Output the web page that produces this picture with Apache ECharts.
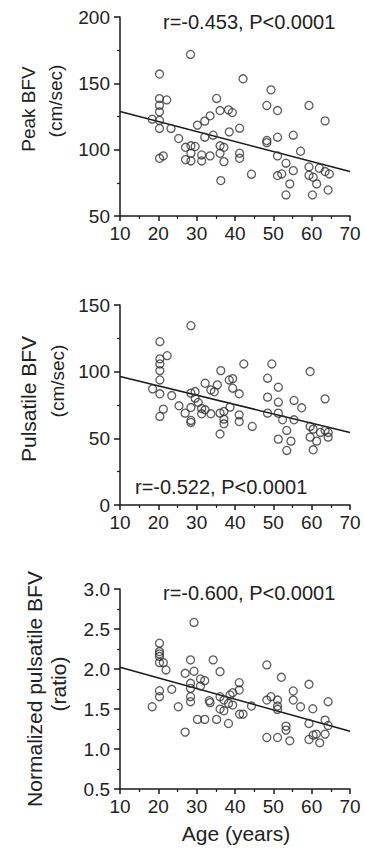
<!DOCTYPE html>
<html><head><meta charset="utf-8">
<script src="https://cdn.jsdelivr.net/npm/echarts@6/dist/echarts.min.js"></script>
<style>html,body{margin:0;padding:0;background:#fff}#c{width:365px;height:849px}</style>
</head><body><div id="c"></div><script>
// Panel 1: Peak BFV (cm/sec) vs age
const peakAge = [18.4,20.3,20.3,20.3,20.3,20.3,20.3,20.3,21.3,22.2,23.3,25.3,27.1,27.1,28.4,28.5,28.5,28.5,29.6,30.2,31.3,31.3,32.1,32.1,33.5,33.5,34.3,35.2,36.1,36.1,36.1,36.3,37.1,37.1,38.3,38.5,39.3,41.2,41.2,41.2,42.1,44.3,48.3,48.3,48.3,49.4,51.1,51.1,51.1,51.1,52.2,53.3,53.3,54.3,55.2,55.2,57.1,59.3,59.3,59.3,60.4,60.2,61.3,62,63.5,63.5,64.6,64.3];
const peakBFV = [123,157,138.5,133.5,128.5,122,116,93.5,95.3,137.5,116,108.4,101.8,92.5,171.8,102.9,97.3,91.5,102.4,118.5,96,91.5,109.4,121.5,125.5,95.3,110.9,138.6,129.5,102.9,97.3,76.7,101.8,91,130,113.4,128,116.2,97.3,93.5,153.4,81.5,133.3,106.9,105.3,145.1,129.5,109.4,95.3,80.5,81.7,89.8,65.9,74.2,110.9,84.2,98.8,133.3,87,80.7,79.2,65.9,74.2,86,121.7,83.5,81.7,69.6];
const peakFit = [[10,128.8],[70,83.5]];

// Panel 2: Pulsatile BFV (cm/sec) vs age
const pulsAge = [18.5,20.4,20.4,20.4,20.4,20.4,20.4,20.4,21.3,22.3,23.5,25.4,27,28.5,28.5,28.5,28.5,28.5,29.6,29.6,30.4,31.3,31.3,32.2,32.2,33.7,33.7,34.6,35.4,36.3,36.1,36.1,37.1,37.1,37.1,38.5,39.4,39.4,38.7,41.1,41.1,41.1,42.3,44.5,48.5,48.5,48.5,49.6,51.3,51.3,51.3,51.3,52.4,53.5,53.5,54.6,55.4,55.4,57.4,59.6,59.6,59.6,60.4,60.4,61.3,62.3,63.5,63.5,64.3,64.3];
const pulsBFV = [87.1,122.5,109.6,105.8,100.8,93.8,83.4,66.4,71.9,112,82.1,74.4,68.9,134.5,83.9,73.1,63.4,61.9,85.1,80.1,76.9,72.4,68.4,91.3,71.4,68.4,86.3,84.9,90.1,100.8,68.9,53.2,70.1,64.4,60.9,93.8,94.8,87.6,73.4,83.4,67.6,62.6,105.8,58.9,95.1,80.9,68.9,105.8,88.3,77.1,68.9,49.4,63.9,55.9,40.9,47.9,78.4,63.9,72.9,100.1,58.9,50.9,56.9,41.4,47.9,54.4,79.6,55.9,54.4,50.9];
const pulsFit = [[10,96.3],[70,54.4]];

// Panel 3: Normalized pulsatile BFV (ratio) vs age
const normAge = [18.4,20.3,20.3,20.3,20.3,20.3,21.3,22,20.3,20.3,23.5,25.2,27,27,28.4,28.4,28.4,28.4,28.4,29.3,29.3,30.2,31,31,32.1,32.1,33.3,33.5,34.3,35.2,36.1,36.1,36.1,37.1,37.1,38.3,38.3,38.7,39.4,39.4,41.1,41.1,41.2,42.1,44.3,48.3,48.3,48.3,49.4,51.1,51.1,51.1,51.1,52.1,53.3,53.3,54.3,55.2,55.2,57.1,59.3,59.3,59.3,60.3,60.4,61.2,62.1,63.5,63.5,64.3,64.3];
const normBFV = [1.528,2.323,2.218,2.189,2.156,2.08,2.08,1.988,1.729,1.654,1.746,1.528,1.946,1.211,2.114,1.821,1.758,1.654,1.591,2.582,1.972,1.37,1.875,1.788,1.855,1.37,1.604,1.58,2.114,1.37,1.967,1.654,1.499,1.612,1.478,1.57,1.319,1.675,1.704,1.549,1.829,1.737,1.436,1.436,1.537,2.051,1.612,1.144,1.654,1.612,1.537,1.495,1.144,1.896,1.286,1.236,1.102,1.725,1.612,1.528,1.809,1.319,1.119,1.503,1.173,1.186,1.077,1.361,1.186,1.591,1.294];
const normFit = [[10,2.022],[70,1.223]];

const yTicks = [{min:50,max:200,interval:50},{min:0,max:150,interval:50},{min:0.5,max:3.0,interval:0.5}];
const xTicks = {min:10,max:70,interval:10};

const FONT = '"Liberation Sans", Arial, Helvetica, sans-serif';
const INK = '#1a1a1a';
const TXT = '#222';

function zip(a, b) { return a.map((v, i) => [v, b[i]]); }

const grids = [
  {left:120, top:17, width:230, height:199},
  {left:120, top:305, width:230, height:200},
  {left:120, top:589, width:230, height:200}
];

const xAxes = grids.map((g, i) => ({
  gridIndex:i, type:'value', min:xTicks.min, max:xTicks.max, interval:xTicks.interval,
  axisLine:{onZero:false, lineStyle:{color:INK, width:1.5}},
  axisTick:{length:5, lineStyle:{color:INK, width:1.5}},
  minorTick:{show:true, splitNumber:2, length:3, lineStyle:{color:INK, width:1.2}},
  splitLine:{show:false},
  axisLabel:{fontSize:19, color:TXT, margin:8, fontFamily:FONT}
}));
const yAxes = grids.map((g, i) => ({
  gridIndex:i, type:'value', min:yTicks[i].min, max:yTicks[i].max, interval:yTicks[i].interval,
  axisLine:{show:true, onZero:false, lineStyle:{color:INK, width:1.5}},
  axisTick:{show:true, length:6, lineStyle:{color:INK, width:1.5}},
  minorTick:{show:true, splitNumber:2, length:3, lineStyle:{color:INK, width:1.2}},
  splitLine:{show:false},
  axisLabel:{fontSize:19, color:TXT, margin:10, fontFamily:FONT,
    formatter: i === 2 ? (v => v.toFixed(1)) : (v => String(v))}
}));

const pts = [zip(peakAge, peakBFV), zip(pulsAge, pulsBFV), zip(normAge, normBFV)];
const fits = [peakFit, pulsFit, normFit];
const series = [];
for (let i = 0; i < 3; i++) {
  series.push({type:'line', xAxisIndex:i, yAxisIndex:i, data:fits[i], symbol:'none', silent:true,
    lineStyle:{color:INK, width:1.5}, z:2});
  series.push({type:'scatter', xAxisIndex:i, yAxisIndex:i, data:pts[i], symbol:'circle', symbolSize:8,
    itemStyle:{color:'rgba(0,0,0,0)', borderColor:'#333', borderWidth:1.3}, z:3});
}

function txt(x, y, text, size, rot, align) {
  return {type:'text', x:x, y:y, rotation: rot || 0,
    style:{text:text, fontSize:size, fontFamily:FONT, fill:TXT, align: align || 'center', verticalAlign:'middle'}};
}

const graphic = [
  txt(163, 22, 'r=-0.453, P<0.0001', 20, 0, 'left'),
  txt(135, 487, 'r=-0.522, P<0.0001', 20, 0, 'left'),
  txt(163, 593, 'r=-0.600, P<0.0001', 20, 0, 'left'),
  txt(28, 109, 'Peak BFV', 19, Math.PI/2),
  txt(55, 101, '(cm/sec)', 19, Math.PI/2),
  txt(28, 399, 'Pulsatile BFV', 21, Math.PI/2),
  txt(57, 381, '(cm/sec)', 19, Math.PI/2),
  txt(34, 689, 'Normalized pulsatile BFV', 21, Math.PI/2),
  txt(58, 684, '(ratio)', 21, Math.PI/2),
  txt(236, 833, 'Age (years)', 21, 0)
];

const chart = echarts.init(document.getElementById('c'), null, {renderer:'svg'});
chart.setOption({
  animation:false,
  backgroundColor:'#fff',
  grid:grids, xAxis:xAxes, yAxis:yAxes, series:series, graphic:graphic
});
</script></body></html>
